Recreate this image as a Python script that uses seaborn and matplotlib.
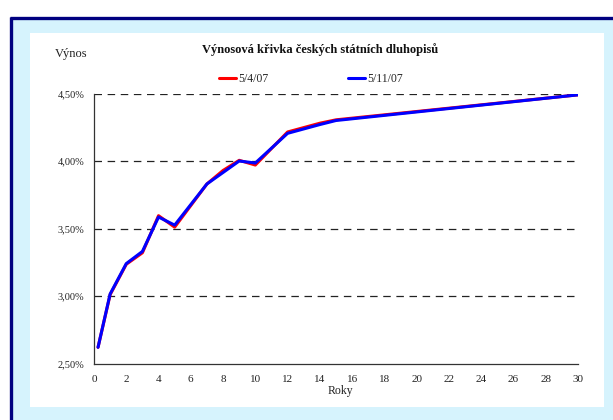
import matplotlib
matplotlib.use('Agg')
import matplotlib.pyplot as plt
from matplotlib.patches import Rectangle
from matplotlib.lines import Line2D
from matplotlib.ticker import FuncFormatter
import seaborn as sns
import pandas as pd

# Data (yield curve of Czech government bonds, %)
years = [0.25, 1, 2, 3, 4, 5, 7, 8, 9, 10, 12, 14, 15, 30]
yield_0504 = [2.62, 3.01, 3.235, 3.32, 3.595, 3.51, 3.83, 3.93, 4.005, 3.97, 4.215, 4.28, 4.305, 4.49]
yield_0511 = [2.62, 3.015, 3.24, 3.33, 3.585, 3.525, 3.83, 3.915, 4.0, 3.985, 4.205, 4.27, 4.30, 4.49]
series_names = ['5/4/07', '5/11/07']
series_colors = ['#FF0000', '#0000FF']

df = pd.concat([
    pd.DataFrame({'Roky': years, 'Výnos': yield_0504, 'Datum': series_names[0]}),
    pd.DataFrame({'Roky': years, 'Výnos': yield_0511, 'Datum': series_names[1]}),
])

sns.set_theme(style='white')
plt.rcParams['font.family'] = ['Liberation Serif', 'DejaVu Serif']

W, H = 613, 420
fig = plt.figure(figsize=(W / 100, H / 100), dpi=100)
fig.patch.set_facecolor('white')

# background frame: light cyan with navy top/left border and white inner panel
fig.patches.append(Rectangle((12 / W, 0), 1 - 12 / W, 1 - 19 / H, transform=fig.transFigure,
                             facecolor='#D6F3FD', edgecolor='none', zorder=-5))
fig.patches.append(Rectangle((30 / W, 1 - 407 / H), (604 - 30) / W, (407 - 33) / H,
                             transform=fig.transFigure, facecolor='white', edgecolor='none', zorder=-4))
fig.lines.append(Line2D([9.5 / W, 1], [1 - 17.5 / H, 1 - 17.5 / H], transform=fig.transFigure,
                        color='#000080', lw=2.4, solid_capstyle='butt', zorder=-3))
fig.lines.append(Line2D([10.5 / W, 10.5 / W], [0, 1 - 16.5 / H], transform=fig.transFigure,
                        color='#000080', lw=2.4, solid_capstyle='butt', zorder=-3))

ax = fig.add_axes([94 / W, 1 - 363.5 / H, 484 / W, 270 / H])
ax.set_facecolor('none')

sns.lineplot(data=df, x='Roky', y='Výnos', hue='Datum', hue_order=series_names,
             palette=dict(zip(series_names, series_colors)), linewidth=2.2, ax=ax, legend=False)

ax.set_xlim(0, 30)
ax.set_ylim(2.5, 4.5)
ax.set_xticks(range(0, 31, 2))
ax.set_yticks([2.5, 3.0, 3.5, 4.0, 4.5])
ax.yaxis.set_major_formatter(FuncFormatter(lambda v, p: f'{v:.2f}%'.replace('.', ',')))
ax.tick_params(axis='both', direction='out', length=3, width=0.8, color='black',
               labelsize=8, labelcolor='#222222', pad=4)
ax.tick_params(axis='y', labelsize=7.5)
ax.tick_params(axis='x', pad=5)
ax.set_xlabel('')
ax.set_ylabel('')

for y in [3.0, 3.5, 4.0, 4.5]:
    ax.axhline(y, color='#222222', lw=0.9, linestyle=(0, (6, 4.5)), zorder=0)

for s in ['top', 'right']:
    ax.spines[s].set_visible(False)
for s in ['left', 'bottom']:
    ax.spines[s].set_color('#333333')
    ax.spines[s].set_linewidth(0.9)

# texts
fig.text(320 / W, 1 - 50 / H, 'Výnosová křivka českých státních dluhopisů',
         ha='center', va='center', fontsize=9, fontweight='bold', color='#111111')
fig.text(55 / W, 1 - 54 / H, 'Výnos', ha='left', va='center', fontsize=9, color='#222222')
fig.text(340 / W, 1 - 391 / H, 'Roky', ha='center', va='center', fontsize=8.5, color='#222222')

handles = [Line2D([], [], color=c, lw=2.2) for c in series_colors]
fig.legend(handles, series_names, loc='center', bbox_to_anchor=(311 / W, 1 - 79 / H), ncol=2,
           frameon=False, fontsize=8.5, handlelength=1.4, handletextpad=0.2, columnspacing=6.8,
           borderpad=0, borderaxespad=0)

fig.savefig('out.png', dpi=100, facecolor=fig.get_facecolor())
